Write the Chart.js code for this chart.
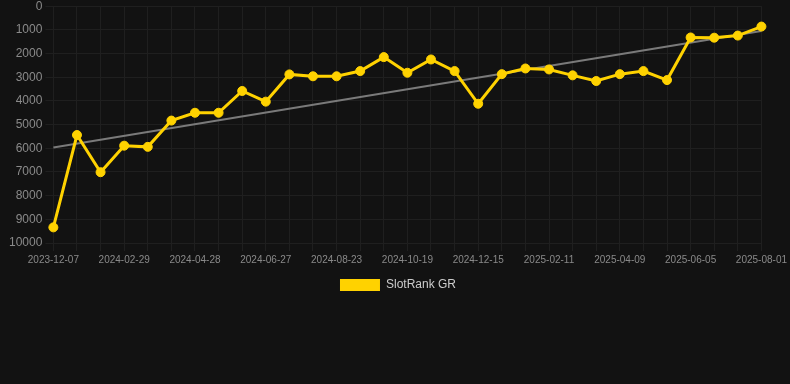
<!DOCTYPE html>
<html>
<head>
<meta charset="utf-8">
<script src="https://cdn.jsdelivr.net/npm/chart.js@4"></script>
<style>
  html, body { margin: 0; padding: 0; background: #121212; overflow: hidden; }
  #wrap { width: 790px; height: 305px; margin-top: -4px; }
</style>
</head>
<body>
<div id="wrap"><canvas id="rankChart"></canvas></div>
<script>
// dates (only every 3rd one is shown on the axis)
const dates = [
    '2023-12-07', '2024-01-04', '2024-02-01', '2024-02-29', '2024-03-19', '2024-04-08',
    '2024-04-28', '2024-05-18', '2024-06-07', '2024-06-27', '2024-07-16', '2024-08-04',
    '2024-08-23', '2024-09-11', '2024-09-30', '2024-10-19', '2024-11-07', '2024-11-26',
    '2024-12-15', '2025-01-03', '2025-01-22', '2025-02-11', '2025-03-02', '2025-03-21',
    '2025-04-09', '2025-04-28', '2025-05-17', '2025-06-05', '2025-06-24', '2025-07-13',
    '2025-08-01'
];
const ranks = [
    9340, 5440, 7010, 5890, 5940, 4830, 4500, 4500, 3580, 4030,
    2880, 2960, 2960, 2740, 2150, 2810, 2250, 2740, 4120, 2870,
    2630, 2670, 2920, 3160, 2870, 2740, 3120, 1320, 1330, 1240,
    860
];
// trend line end points
const trendStart = 5970;
const trendEnd = 1050;
const yTicks = [0, 1000, 2000, 3000, 4000, 5000, 6000, 7000, 8000, 9000, 10000];

const lineColor = '#ffd200';
const trend = ranks.map((v, i) => i === 0 ? trendStart : (i === ranks.length - 1 ? trendEnd : null));

const ctx = document.getElementById('rankChart').getContext('2d');

const myChart = new Chart(ctx, {
    type: 'line',
    data: {
        labels: dates,
        datasets: [{
            label: 'SlotRank GR',
            data: ranks,
            borderColor: lineColor,
            backgroundColor: lineColor,
            borderWidth: 3,
            pointRadius: 4.5,
            pointBorderWidth: 1,
            pointHoverRadius: 5,
            tension: 0,
            order: 1
        }, {
            label: 'trend',
            data: trend,
            borderColor: '#7a7a7a',
            borderWidth: 2,
            pointRadius: 0,
            spanGaps: true,
            order: 2
        }]
    },
    options: {
        responsive: true,
        maintainAspectRatio: false,
        animation: false,
        layout: {
            padding: { left: 6 }
        },
        scales: {
            x: {
                grid: { color: '#1f1f1f', tickLength: 8 },
                border: { color: '#1f1f1f' },
                ticks: {
                    color: '#8a8a8a',
                    font: { size: 10 },
                    autoSkip: false,
                    maxRotation: 0,
                    callback: function(val, index) {
                        return index % 3 === 0 ? this.getLabelForValue(val) : '';
                    }
                }
            },
            y: {
                reverse: true,
                min: 0,
                max: 10000,
                afterBuildTicks: axis => {
                    axis.ticks = yTicks.map(v => ({ value: v }));
                },
                grid: { color: '#1f1f1f' },
                border: { color: '#1f1f1f' },
                ticks: {
                    color: '#8a8a8a',
                    font: { size: 12 },
                    callback: v => String(v)
                }
            }
        },
        plugins: {
            legend: {
                display: true,
                position: 'bottom',
                labels: {
                    color: '#cccccc',
                    font: { size: 12 },
                    boxWidth: 40,
                    boxHeight: 12,
                    generateLabels: chart => Chart.defaults.plugins.legend.labels.generateLabels(chart)
                        .filter(item => item.text !== 'trend')
                        .map(item => ({ ...item, lineWidth: 0 }))
                }
            },
            tooltip: { enabled: false }
        }
    }
});
</script>
</body>
</html>
